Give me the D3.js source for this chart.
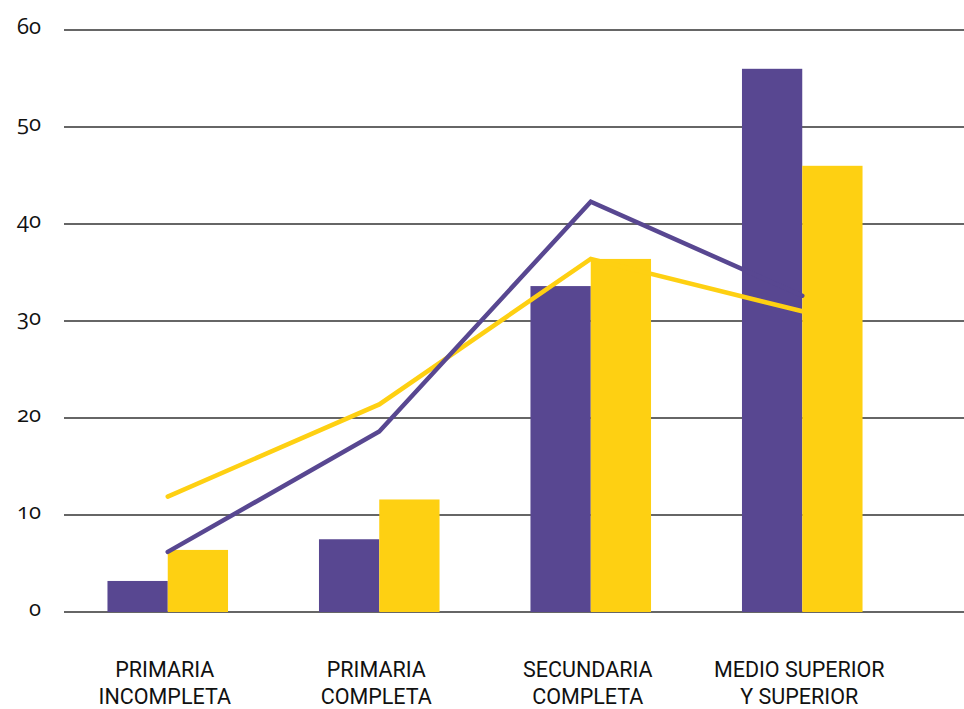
<html lang="es">
<head>
    <meta charset="UTF-8">
    <title>Nivel educativo</title>
    <script src="https://d3js.org/d3.v7.min.js"></script>
    <style>
        body { margin: 0; background: #fff; }
        .tick-label { font-family: "Open Sans", "Noto Sans", sans-serif; font-size: 22px; font-feature-settings: "onum" 1; font-variant-numeric: oldstyle-nums; fill: #111; }
        .cat-label { font-family: Roboto, "Noto Sans", sans-serif; font-size: 21.5px; fill: #111; }
    </style>
</head>
<body>
<script>

    // data
    const categories = ["PRIMARIA INCOMPLETA", "PRIMARIA COMPLETA", "SECUNDARIA COMPLETA", "MEDIO SUPERIOR Y SUPERIOR"];
    const labelLines = [["PRIMARIA", "INCOMPLETA"], ["PRIMARIA", "COMPLETA"], ["SECUNDARIA", "COMPLETA"], ["MEDIO SUPERIOR", "Y SUPERIOR"]];
    const barsPurple = [3.2, 7.5, 33.6, 56.0];
    const barsYellow = [6.4, 11.6, 36.4, 46.0];
    const linePurple = [6.2, 18.6, 42.3, 32.6];
    const lineYellow = [11.9, 21.4, 36.4, 31.0];
    const yTicks = [0, 10, 20, 30, 40, 50, 60];

    const purple = "#584791";
    const yellow = "#fed012";

    const w = 964;
    const h = 709;

    const svg = d3.select("body")
        .append("svg")
        .attr("width", w)
        .attr("height", h);

    const xScale = d3.scaleBand()
        .domain(categories)
        .range([62, 908])
        .paddingInner(0.43)
        .paddingOuter(0.215);

    const subScale = d3.scaleBand()
        .domain(["purple", "yellow"])
        .range([0, xScale.bandwidth()]);

    const yScale = d3.scaleLinear()
        .domain([0, 60])
        .range([612, 30]);

    //gridlines
    svg.append("g")
        .selectAll("line")
        .data(yTicks)
        .enter()
        .append("line")
        .attr("x1", 64)
        .attr("x2", w)
        .attr("y1", d => yScale(d))
        .attr("y2", d => yScale(d))
        .attr("stroke", "#333")
        .attr("stroke-width", 1.3);

    //y labels
    svg.append("g")
        .selectAll("text")
        .data(yTicks)
        .enter()
        .append("text")
        .attr("class", "tick-label")
        .attr("text-anchor", "end")
        .attr("x", 41)
        .attr("y", d => yScale(d) + 4)
        .text(d => d);

    //bars
    const groups = svg.append("g")
        .selectAll("g")
        .data(categories)
        .enter()
        .append("g")
        .attr("transform", d => "translate(" + xScale(d) + ",0)");

    groups.append("rect")
        .attr("x", subScale("purple"))
        .attr("width", subScale.bandwidth())
        .attr("y", (d, i) => yScale(barsPurple[i]))
        .attr("height", (d, i) => yScale(0) - yScale(barsPurple[i]))
        .attr("fill", purple);

    groups.append("rect")
        .attr("x", subScale("yellow"))
        .attr("width", subScale.bandwidth())
        .attr("y", (d, i) => yScale(barsYellow[i]))
        .attr("height", (d, i) => yScale(0) - yScale(barsYellow[i]))
        .attr("fill", yellow);

    //lines
    const line = d3.line()
        .x((d, i) => xScale(categories[i]) + xScale.bandwidth() / 2)
        .y(d => yScale(d));

    svg.append("path")
        .datum(lineYellow)
        .attr("d", line)
        .attr("fill", "none")
        .attr("stroke", yellow)
        .attr("stroke-width", 4.5)
        .attr("stroke-linecap", "round")
        .attr("stroke-linejoin", "miter");

    svg.append("path")
        .datum(linePurple)
        .attr("d", line)
        .attr("fill", "none")
        .attr("stroke", purple)
        .attr("stroke-width", 4.5)
        .attr("stroke-linecap", "round")
        .attr("stroke-linejoin", "miter");

    //category labels
    const labels = svg.append("g")
        .selectAll("text")
        .data(categories)
        .enter()
        .append("text")
        .attr("class", "cat-label")
        .attr("text-anchor", "middle")
        .attr("x", d => xScale(d) + xScale.bandwidth() / 2 - 3)
        .attr("y", 677);

    labels.selectAll("tspan")
        .data((d, i) => labelLines[i])
        .enter()
        .append("tspan")
        .attr("x", function () { return this.parentNode.getAttribute("x"); })
        .attr("dy", (d, i) => i === 0 ? 0 : 27)
        .text(d => d);

</script>
</body>
</html>
